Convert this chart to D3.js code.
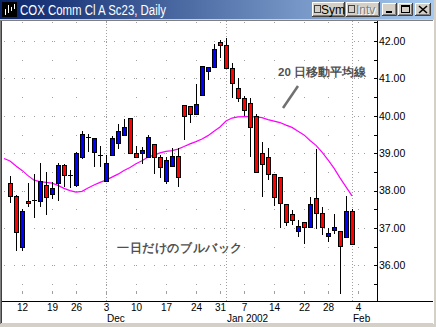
<!DOCTYPE html>
<html>
<head>
<meta charset="utf-8">
<script src="https://cdn.jsdelivr.net/npm/d3@7"></script>
<style>
  html, body { margin: 0; padding: 0; background: #d4d0c8; }
  svg { display: block; }
  text { font-family: "Liberation Sans", Arial, sans-serif; }
</style>
</head>
<body>
<div id="chart"></div>
<script>
// trading days shown (Nov 8 2001 .. Feb 1 2002)
const days = ["2001-11-08","2001-11-09","2001-11-12","2001-11-13","2001-11-14","2001-11-15","2001-11-16",
  "2001-11-19","2001-11-20","2001-11-21","2001-11-23","2001-11-26","2001-11-27","2001-11-28","2001-11-29","2001-11-30",
  "2001-12-03","2001-12-04","2001-12-05","2001-12-06","2001-12-07","2001-12-10","2001-12-11","2001-12-12","2001-12-13","2001-12-14",
  "2001-12-17","2001-12-18","2001-12-19","2001-12-20","2001-12-21","2001-12-24","2001-12-26","2001-12-27","2001-12-28","2001-12-31",
  "2002-01-02","2002-01-03","2002-01-04","2002-01-07","2002-01-08","2002-01-09","2002-01-10","2002-01-11",
  "2002-01-14","2002-01-15","2002-01-16","2002-01-17","2002-01-18","2002-01-22","2002-01-23","2002-01-24","2002-01-25",
  "2002-01-28","2002-01-29","2002-01-30","2002-01-31","2002-02-01"];

const opens = [38.21,37.85,36.49,37.72,37.74,37.71,38.14,37.91,38.20,38.68,38.41,38.14,38.89,39.43,39.04,38.94,
  38.25,38.94,39.26,39.49,39.93,39.00,39.00,38.89,39.24,38.89,38.25,38.65,38.93,40.28,40.25,40.04,40.55,41.19,41.30,41.97,
  41.89,41.27,40.74,40.47,40.33,39.99,39.00,38.89,38.44,38.37,37.63,37.37,36.92,37.15,37.02,37.79,37.39,36.79,36.95,36.92,36.77,37.45];
const highs = [38.39,37.87,37.50,38.21,38.44,38.75,38.50,38.24,38.75,38.70,38.55,39.02,39.59,39.51,39.42,39.20,
  38.95,39.47,39.78,39.91,39.93,39.19,39.17,39.49,39.24,38.95,38.89,39.15,39.13,40.28,40.25,40.85,41.33,41.30,41.92,42.03,
  42.09,41.40,41.02,40.54,40.47,40.04,39.31,39.13,38.44,38.37,37.63,37.48,37.21,37.15,37.84,39.10,37.55,37.01,37.37,36.92,37.86,37.51];
const lows = [37.70,36.40,36.40,37.59,37.30,37.60,37.37,37.81,37.75,38.13,38.09,38.12,38.87,39.07,38.67,38.67,
  38.25,38.94,39.13,39.49,39.00,38.89,38.73,38.89,38.48,38.37,38.20,38.65,38.12,39.38,39.83,40.04,40.55,40.98,41.30,41.58,
  41.27,40.51,40.40,40.02,38.93,38.50,37.86,38.30,37.61,37.04,37.08,37.10,36.79,36.59,37.02,37.01,36.84,36.64,36.86,35.25,36.77,36.57];
const closes = [37.85,36.89,37.46,37.66,37.74,38.25,37.82,38.06,38.68,38.42,38.41,39.00,39.51,39.43,39.40,38.94,
  38.73,39.40,39.59,39.69,39.00,38.89,39.08,39.43,38.89,38.62,38.81,38.93,38.37,39.99,40.04,40.32,41.33,41.30,41.79,41.89,
  41.27,40.87,40.47,40.15,39.71,38.50,38.71,38.44,37.82,37.66,37.15,37.21,37.05,37.02,37.64,37.39,37.02,36.88,37.03,36.52,37.45,36.57];

// 20-day moving average, first value sits one day before the first candle
const ma20 = [38.86,38.79,38.66,38.54,38.40,38.28,38.24,38.22,38.20,38.14,38.06,38.00,37.96,37.98,38.07,38.15,38.22,38.28,
  38.36,38.44,38.54,38.62,38.72,38.80,38.90,38.95,39.01,39.05,39.07,39.11,39.18,39.25,39.31,39.38,39.47,39.59,39.70,39.86,
  39.94,39.97,39.98,39.98,39.97,39.95,39.90,39.86,39.82,39.75,39.69,39.59,39.49,39.34,39.21,39.03,38.82,38.60,38.34,38.10,37.86];

// x tick labels (weekly) and their trading-day index; 58 = Feb 4 (no bar yet)
const weekIdx = [2, 7, 11, 16, 21, 26, 31, 35, 39, 44, 49, 53, 58];
const weekLbl = ["12","19","26","3","10","17","24","31","7","14","22","28","4"];
const monthIdx = [16, 36, 57];
const monthLbl = ["Dec", "Jan 2002", "Feb"];

const priceTicks = [36, 37, 38, 39, 40, 41, 42];
const title = "COX Comm Cl A Sc23, Daily";
const maNote = "20 日移動平均線";
const pullNote = "一日だけのブルバック";

const W = 436, H = 327;
const plot = {left: 3, right: 377, top: 21, bottom: 302};

const svg = d3.select("#chart").append("svg")
  .attr("width", W).attr("height", H);

// ---- window frame ----
svg.append("rect").attr("width", W).attr("height", H).attr("fill", "#d4d0c8");
const defs = svg.append("defs");
const grad = defs.append("linearGradient").attr("id", "tb");
grad.append("stop").attr("offset", "0%").attr("stop-color", "#0a246a");
grad.append("stop").attr("offset", "100%").attr("stop-color", "#a6caf0");
svg.append("rect").attr("x", 0).attr("y", 0).attr("width", 434).attr("height", 19).attr("fill", "url(#tb)");

// client area
svg.append("rect").attr("x", 2).attr("y", 21).attr("width", 431).attr("height", 302).attr("fill", "#fff");
svg.append("line").attr("x1", 0).attr("x2", 434).attr("y1", 20.5).attr("y2", 20.5).attr("stroke", "#808080");
svg.append("line").attr("x1", 0.5).attr("x2", 0.5).attr("y1", 20).attr("y2", 324).attr("stroke", "#808080");
svg.append("line").attr("x1", 1.5).attr("x2", 1.5).attr("y1", 21).attr("y2", 323).attr("stroke", "#404040");
svg.append("line").attr("x1", 433.5).attr("x2", 433.5).attr("y1", 20).attr("y2", 324).attr("stroke", "#fff");

// title icon
const icon = svg.append("g");
icon.append("rect").attr("x", 2).attr("y", 2).attr("width", 15).attr("height", 15).attr("fill", "#000");
[[5, 9, 15], [8, 5, 13], [11, 7, 11], [14, 4, 9]].forEach(([x, a, b]) => {
  icon.append("line").attr("x1", x + 0.5).attr("x2", x + 0.5).attr("y1", a).attr("y2", b).attr("stroke", "#fff");
});
svg.append("text").attr("x", 20).attr("y", 15).attr("fill", "#fff")
  .attr("font-size", 14).attr("textLength", 146).attr("lengthAdjust", "spacingAndGlyphs").text(title);

function button(x, y, w, h) {
  const g = svg.append("g");
  g.append("rect").attr("x", x).attr("y", y).attr("width", w).attr("height", h).attr("fill", "#d4d0c8");
  g.append("path").attr("d", `M${x + 0.5},${y + h}V${y + 0.5}H${x + w}`).attr("stroke", "#fff").attr("fill", "none");
  g.append("path").attr("d", `M${x},${y + h - 0.5}H${x + w - 0.5}V${y}`).attr("stroke", "#404040").attr("fill", "none");
  g.append("path").attr("d", `M${x + 1},${y + h - 1.5}H${x + w - 1.5}V${y + 1}`).attr("stroke", "#808080").attr("fill", "none");
  return g;
}
const sym = button(312, 2, 33, 15);
sym.append("rect").attr("x", 314.5).attr("y", 5.5).attr("width", 6).attr("height", 7).attr("fill", "#d4d0c8").attr("stroke", "#404040");
sym.append("text").attr("x", 321).attr("y", 14).attr("font-size", 12).attr("fill", "#000").text("Sym");
const intv = button(346, 2, 34, 15);
intv.append("rect").attr("x", 348.5).attr("y", 5.5).attr("width", 6).attr("height", 7).attr("fill", "#d4d0c8").attr("stroke", "#404040");
intv.append("text").attr("x", 357).attr("y", 15).attr("font-size", 12).attr("fill", "#fff").text("Intv");
intv.append("text").attr("x", 356).attr("y", 14).attr("font-size", 12).attr("fill", "#808080").text("Intv");
const bmin = button(382, 3, 15, 13);
bmin.append("rect").attr("x", 386).attr("y", 11).attr("width", 6).attr("height", 2).attr("fill", "#000");
const bmax = button(398, 3, 15, 13);
bmax.append("rect").attr("x", 401.5).attr("y", 5.5).attr("width", 8).attr("height", 7).attr("fill", "none").attr("stroke", "#000");
bmax.append("line").attr("x1", 401).attr("x2", 410).attr("y1", 6.5).attr("y2", 6.5).attr("stroke", "#000");
const bcl = button(415, 3, 16, 13);
bcl.append("path").attr("d", "M419,6L427,13M427,6L419,13").attr("stroke", "#000").attr("stroke-width", 1.6);

// ---- scales ----
const x = d3.scaleLinear().domain([-1, 58]).range([4, 358]);
const y = d3.scaleLinear().domain([35.03, 42.535]).range([301.7, 21]);
const px = v => Math.round(v) + 0.5;

const chart = svg.append("g");

// grid: full-unit rows dotted, weekly columns dotted at every half unit
const halfTicks = d3.range(35.5, 42.51, 0.5);
priceTicks.forEach(p => {
  chart.append("line").attr("x1", 4).attr("x2", plot.right - 2)
    .attr("y1", px(y(p))).attr("y2", px(y(p)))
    .attr("stroke", "#a0a0a0").attr("stroke-dasharray", "1 9");
});
weekIdx.forEach(i => {
  halfTicks.forEach(p => {
    chart.append("rect").attr("x", Math.round(x(i))).attr("y", Math.round(y(p)))
      .attr("width", 1).attr("height", 1).attr("fill", "#a0a0a0");
  });
  chart.append("line").attr("x1", px(x(i))).attr("x2", px(x(i)))
    .attr("y1", 291).attr("y2", 294).attr("stroke", "#a0a0a0");
});
monthIdx.forEach(i => {
  chart.append("line").attr("x1", px(x(i))).attr("x2", px(x(i)))
    .attr("y1", plot.top).attr("y2", plot.bottom)
    .attr("stroke", "#a0a0a0").attr("stroke-dasharray", "1 2");
});

// moving average
const maLine = d3.line().x((d, i) => x(i - 1)).y(d => y(d));
chart.append("path").datum(ma20).attr("d", maLine)
  .attr("fill", "none").attr("stroke", "#ff00ff").attr("stroke-width", 1.2);

// candles
const bars = days.map((d, i) => ({i, o: opens[i], h: highs[i], l: lows[i], c: closes[i]}));
const cg = chart.selectAll("g.bar").data(bars).enter().append("g").attr("class", "bar")
  .attr("shape-rendering", "crispEdges");
cg.append("line")
  .attr("x1", d => px(x(d.i))).attr("x2", d => px(x(d.i)))
  .attr("y1", d => Math.round(y(d.h))).attr("y2", d => Math.round(y(d.l)) + 1)
  .attr("stroke", "#000");
cg.filter(d => Math.abs(d.o - d.c) >= 0.02).append("rect")
  .attr("x", d => px(x(d.i)) - 2)
  .attr("y", d => px(y(Math.max(d.o, d.c))))
  .attr("width", 4)
  .attr("height", d => Math.max(1, Math.round(y(Math.min(d.o, d.c))) - Math.round(y(Math.max(d.o, d.c)))))
  .attr("fill", d => d.c > d.o ? "#0000ff" : "#ff0000")
  .attr("stroke", "#000");
cg.filter(d => Math.abs(d.o - d.c) < 0.02).append("line")
  .attr("x1", d => Math.round(x(d.i)) - 2).attr("x2", d => Math.round(x(d.i)) + 3)
  .attr("y1", d => px(y(d.o))).attr("y2", d => px(y(d.o)))
  .attr("stroke", "#000");

// ---- axes ----
svg.append("line").attr("x1", 2).attr("x2", 433).attr("y1", 301.5).attr("y2", 301.5).attr("stroke", "#000");
svg.append("line").attr("x1", 377.5).attr("x2", 377.5).attr("y1", 21).attr("y2", 302).attr("stroke", "#000");

const yAxis = d3.axisRight(y).tickValues(priceTicks).tickSize(0).tickPadding(2)
  .tickFormat(d3.format(".2f"));
const ya = svg.append("g").attr("transform", "translate(377,0)").call(yAxis);
ya.select(".domain").remove();
ya.selectAll("text").attr("font-size", 10.5).attr("font-family", "'Liberation Sans', Arial, sans-serif").attr("fill", "#000");
halfTicks.forEach(p => {
  svg.append("line").attr("x1", 374).attr("x2", 377).attr("y1", px(y(p))).attr("y2", px(y(p))).attr("stroke", "#000");
});

const xa = svg.append("g");
xa.selectAll("text.day").data(weekIdx).enter().append("text")
  .attr("x", d => x(d) + 0.5).attr("y", 311).attr("text-anchor", "middle")
  .attr("font-size", 10).attr("fill", "#000")
  .text((d, i) => weekLbl[i]);
xa.selectAll("text.mon").data(monthIdx).enter().append("text")
  .attr("x", d => x(d) + 1).attr("y", 322)
  .attr("font-size", 10).attr("fill", "#000")
  .text((d, i) => monthLbl[i]);

// ---- annotations ----
svg.append("text").attr("x", 278).attr("y", 76)
  .attr("font-family", "'Noto Sans CJK JP', sans-serif").attr("font-weight", "bold")
  .attr("font-size", 11.5).attr("fill", "#505050").text(maNote);
svg.append("line").attr("x1", 283).attr("y1", 108).attr("x2", 298).attr("y2", 86)
  .attr("stroke", "#707070").attr("stroke-width", 2.5);
svg.append("text").attr("x", 117).attr("y", 252)
  .attr("font-family", "'Noto Sans CJK JP', sans-serif").attr("font-weight", "bold")
  .attr("font-size", 12).attr("letter-spacing", 0.6).attr("fill", "#505050").text(pullNote);
</script>
</body>
</html>
